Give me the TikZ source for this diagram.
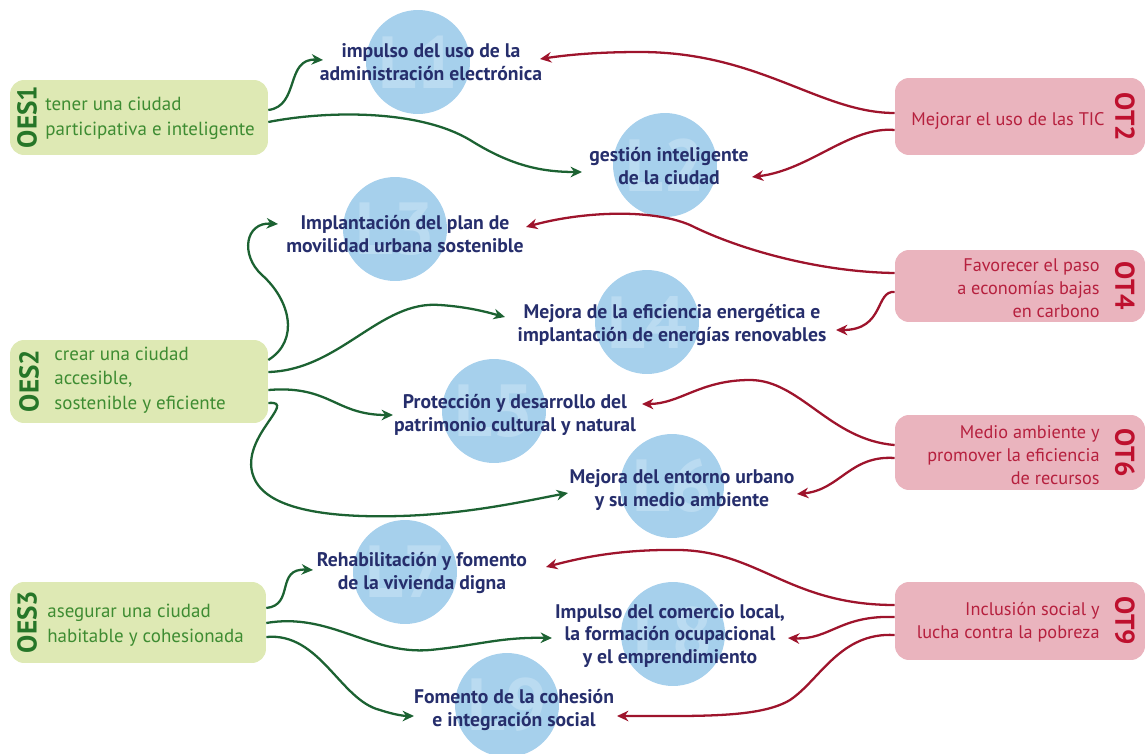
\documentclass[tikz,border=0pt]{standalone}
\usepackage{fontspec}
\setmainfont{PT Sans}
\usetikzlibrary{arrows.meta}
\definecolor{cfill}{RGB}{166,208,236}
\definecolor{wmcol}{RGB}{186,219,241}
\definecolor{navy}{RGB}{38,46,108}
\definecolor{gfill}{RGB}{222,233,180}
\definecolor{gtxt}{RGB}{62,140,50}
\definecolor{glab}{RGB}{38,118,40}
\definecolor{garr}{RGB}{28,98,50}
\definecolor{rfill}{RGB}{234,180,190}
\definecolor{rtxt}{RGB}{182,32,62}
\definecolor{rlab}{RGB}{190,16,46}
\definecolor{rarr}{RGB}{158,20,44}
\begin{document}
\begin{tikzpicture}[x=0.02cm,y=-0.02cm,
  circ/.style={circle,fill=cfill,minimum size=2.08cm,inner sep=0pt},
  wm/.style={text=wmcol,font=\fontsize{42}{42}\selectfont\bfseries,inner sep=0pt},
  ctext/.style={text=navy,font=\fontsize{11.2}{13}\selectfont\bfseries,align=center,inner sep=0pt},
  gbox/.style={fill=gfill,rounded corners=8pt,inner sep=0pt},
  rbox/.style={fill=rfill,rounded corners=8pt,inner sep=0pt},
  gtext/.style={text=gtxt,font=\fontsize{10.8}{14}\selectfont,align=left,anchor=west,inner sep=0pt},
  rtext/.style={text=rtxt,font=\fontsize{10.4}{13}\selectfont,align=right,anchor=east,inner sep=0pt},
  glabel/.style={text=glab,font=\fontsize{15.5}{15.5}\selectfont\bfseries,rotate=90,inner sep=0pt},
  rlabel/.style={text=rlab,font=\fontsize{15.5}{15.5}\selectfont\bfseries,rotate=-90,inner sep=0pt},
  garrow/.style={draw=garr,line width=1.3pt,-{Stealth[length=6.5pt,width=6pt]}},
  rarrow/.style={draw=rarr,line width=1.3pt,-{Stealth[length=6.5pt,width=6pt]}}]
\useasboundingbox (0,0) rectangle (1147,754);

% circles with faint watermarks
\node[circ] (c1) at (418,62) {};
\node[circ] (c2) at (665,165) {};
\node[circ] (c3) at (395,229) {};
\node[circ] (c4) at (647,322) {};
\node[circ] (c5) at (494,411) {};
\node[circ] (c6) at (672,486) {};
\node[circ] (c7) at (405,572) {};
\node[circ] (c8) at (673,634) {};
\node[circ] (c9) at (507,705) {};
\node[wm] (w1) at (c1) {L1};
\node[wm] (w2) at (c2) {L2};
\node[wm] (w3) at (c3) {L3};
\node[wm] (w4) at (c4) {L4};
\node[wm] (w5) at (c5) {L5};
\node[wm] (w6) at (c6) {L6};
\node[wm] (w7) at (c7) {L7};
\node[wm] (w8) at (c8) {L8};
\node[wm] (w9) at (c9) {L9};

% left boxes
\node[gbox,minimum width=5.16cm,minimum height=1.5cm] (oes1) at (139,117.5) {};
\node[gbox,minimum width=5.16cm,minimum height=1.66cm] (oes2) at (139,381.5) {};
\node[gbox,minimum width=5.12cm,minimum height=1.62cm] (oes3) at (138,622.5) {};
\node[glabel] (l1) at (27,117) {OES1};
\node[glabel] (l2) at (29,381) {OES2};
\node[glabel] (l3) at (27,622) {OES3};
\node[gtext] (g1t) at (45,118) {tener una ciudad\\participativa e inteligente};
\node[gtext] (g2t) at (54,380) {crear una ciudad\\accesible,\\sostenible y eficiente};
\node[gtext] (g3t) at (47,625) {asegurar una ciudad\\habitable y cohesionada};

% right boxes
\node[rbox,minimum width=5cm,minimum height=1.54cm] (ot2) at (1020,116.5) {};
\node[rbox,minimum width=5cm,minimum height=1.44cm] (ot4) at (1020,286) {};
\node[rbox,minimum width=5cm,minimum height=1.5cm] (ot6) at (1020,452.5) {};
\node[rbox,minimum width=5cm,minimum height=1.56cm] (ot9) at (1020,621) {};
\node[rlabel] (k2) at (1125,117) {OT2};
\node[rlabel] (k4) at (1125,286) {OT4};
\node[rlabel] (k6) at (1125,453) {OT6};
\node[rlabel] (k9) at (1125,621) {OT9};
\node[rtext] (r2t) at (1105,121) {Mejorar el uso de las TIC};
\node[rtext] (r4t) at (1100,288) {Favorecer el paso\\a economías bajas\\en carbono};
\node[rtext] (r6t) at (1100,455) {Medio ambiente y\\promover la eficiencia\\de recursos};
\node[rtext] (r9t) at (1100,622) {Inclusión social y\\lucha contra la pobreza};

% arrow tips
\coordinate (g1) at (323,60);
\coordinate (g2) at (582,172);
\coordinate (g3) at (278,224);
\coordinate (g4) at (505,317);
\coordinate (g5) at (393,415);
\coordinate (g6) at (568,493);
\coordinate (g7) at (313,570);
\coordinate (g8) at (552,638);
\coordinate (g9) at (414,716);
\coordinate (r1) at (540,59);
\coordinate (r2) at (752,177);
\coordinate (r3) at (526,227);
\coordinate (r4) at (836,330);
\coordinate (r5) at (642,404);
\coordinate (r6) at (797,494);
\coordinate (r7) at (546,567);
\coordinate (r8) at (788,638);
\coordinate (r9) at (617,716);

% green connectors
\draw[garrow] (oes1.east |- 0,110) .. controls (300,106) and (285,58) .. (g1);
\draw[garrow] (oes1.east |- 0,122) .. controls (330,110) and (420,110) .. (470,140) .. controls (510,165) and (540,172) .. (g2);
\draw[garrow] (oes2.east |- 0,360) .. controls (300,340) and (290,300) .. (262,275) .. controls (240,255) and (245,222) .. (g3);
\draw[garrow] (oes2.east |- 0,372) .. controls (340,370) and (380,300) .. (440,305) .. controls (470,307) and (490,313) .. (g4);
\draw[garrow] (oes2.east |- 0,390) .. controls (330,385) and (335,415) .. (g5);
\draw[garrow] (oes2.east |- 0,403) .. controls (300,400) and (235,440) .. (255,480) .. controls (270,510) and (330,518) .. (400,516) .. controls (470,514) and (530,500) .. (g6);
\draw[garrow] (oes3.east |- 0,608) .. controls (295,605) and (275,568) .. (g7);
\draw[garrow] (oes3.east |- 0,623) .. controls (330,612) and (370,655) .. (430,650) .. controls (480,645) and (500,637) .. (g8);
\draw[garrow] (oes3.east |- 0,637) .. controls (320,632) and (340,700) .. (380,710) .. controls (395,715) and (405,716) .. (g9);

% red connectors
\draw[rarrow] (ot2.west |- 0,113) .. controls (820,113) and (760,52) .. (640,52) .. controls (590,52) and (560,56) .. (r1);
\draw[rarrow] (ot2.west |- 0,130) .. controls (850,126) and (810,170) .. (r2);
\draw[rarrow] (ot4.west |- 0,273) .. controls (820,272) and (740,250) .. (690,225) .. controls (650,208) and (580,212) .. (r3);
\draw[rarrow] (ot4.west |- 0,292) .. controls (875,290) and (885,330) .. (r4);
\draw[rarrow] (ot6.west |- 0,445) .. controls (830,440) and (800,380) .. (750,380) .. controls (700,380) and (680,404) .. (r5);
\draw[rarrow] (ot6.west |- 0,458) .. controls (850,455) and (840,490) .. (r6);
\draw[rarrow] (ot9.west |- 0,605) .. controls (790,605) and (760,552) .. (680,550) .. controls (620,549) and (580,558) .. (r7);
\draw[rarrow] (ot9.west |- 0,617) .. controls (840,615) and (830,640) .. (r8);
\draw[rarrow] (ot9.west |- 0,635) .. controls (840,632) and (820,680) .. (790,700) .. controls (760,718) and (700,716) .. (r9);

% circle texts
\node[ctext] (t1) at (431,62) {impulso del uso de la\\administración electrónica};
\node[ctext] (t2) at (669,166) {gestión inteligente\\de la ciudad};
\node[ctext] (t3) at (405,234) {Implantación del plan de\\movilidad urbana sostenible};
\node[ctext] (t4) at (672,325) {Mejora de la eficiencia energética e\\implantación de energías renovables};
\node[ctext] (t5) at (515,415) {Protección y desarrollo del\\patrimonio cultural y natural};
\node[ctext] (t6) at (682,490) {Mejora del entorno urbano\\y su medio ambiente};
\node[ctext] (t7) at (422,573) {Rehabilitación y fomento\\de la vivienda digna};
\node[ctext] (t8) at (670,636) {Impulso del comercio local,\\la formación ocupacional\\y el emprendimiento};
\node[ctext] (t9) at (514,710) {Fomento de la cohesión\\e integración social};
\end{tikzpicture}
\end{document}
